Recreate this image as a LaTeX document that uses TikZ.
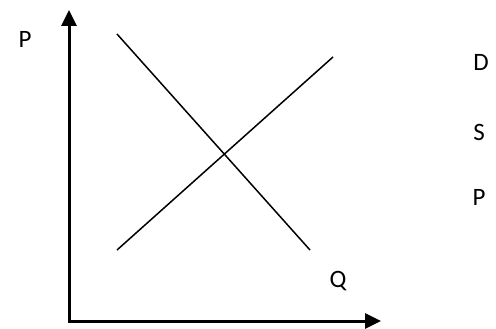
\documentclass[tikz,border=0pt]{standalone}
\usepackage{fontspec}
\setmainfont{Carlito}
\usetikzlibrary{arrows.meta}
\begin{document}
\begin{tikzpicture}[x=1pt,y=-1pt,
  axis/.style={line width=3pt,{Triangle[width=15pt,length=16pt]}-{Triangle[width=15pt,length=16pt]}},
  curve/.style={line width=1.5pt},
  lbl/.style={inner sep=0pt,font=\fontsize{25}{30}\selectfont}]
\useasboundingbox (0,0) rectangle (496,329);
\coordinate (ytip) at (69,10);
\coordinate (origin) at (69,321);
\coordinate (xtip) at (381,321);
\draw[axis,line join=miter] (ytip) -- (origin) -- (xtip);
\coordinate (d1) at (117,34);
\coordinate (d2) at (310,250);
\coordinate (s1) at (117,250);
\coordinate (s2) at (333,57);
\draw[curve] (d1) -- (d2);
\draw[curve] (s1) -- (s2);
\node[lbl] (py) at (25,39) {P};
\node[lbl] (dl) at (481,62) {D};
\node[lbl] (sl) at (479,132) {S};
\node[lbl] (pl) at (479,197) {P};
\node[lbl] (ql) at (338,281) {Q};
\end{tikzpicture}
\end{document}
